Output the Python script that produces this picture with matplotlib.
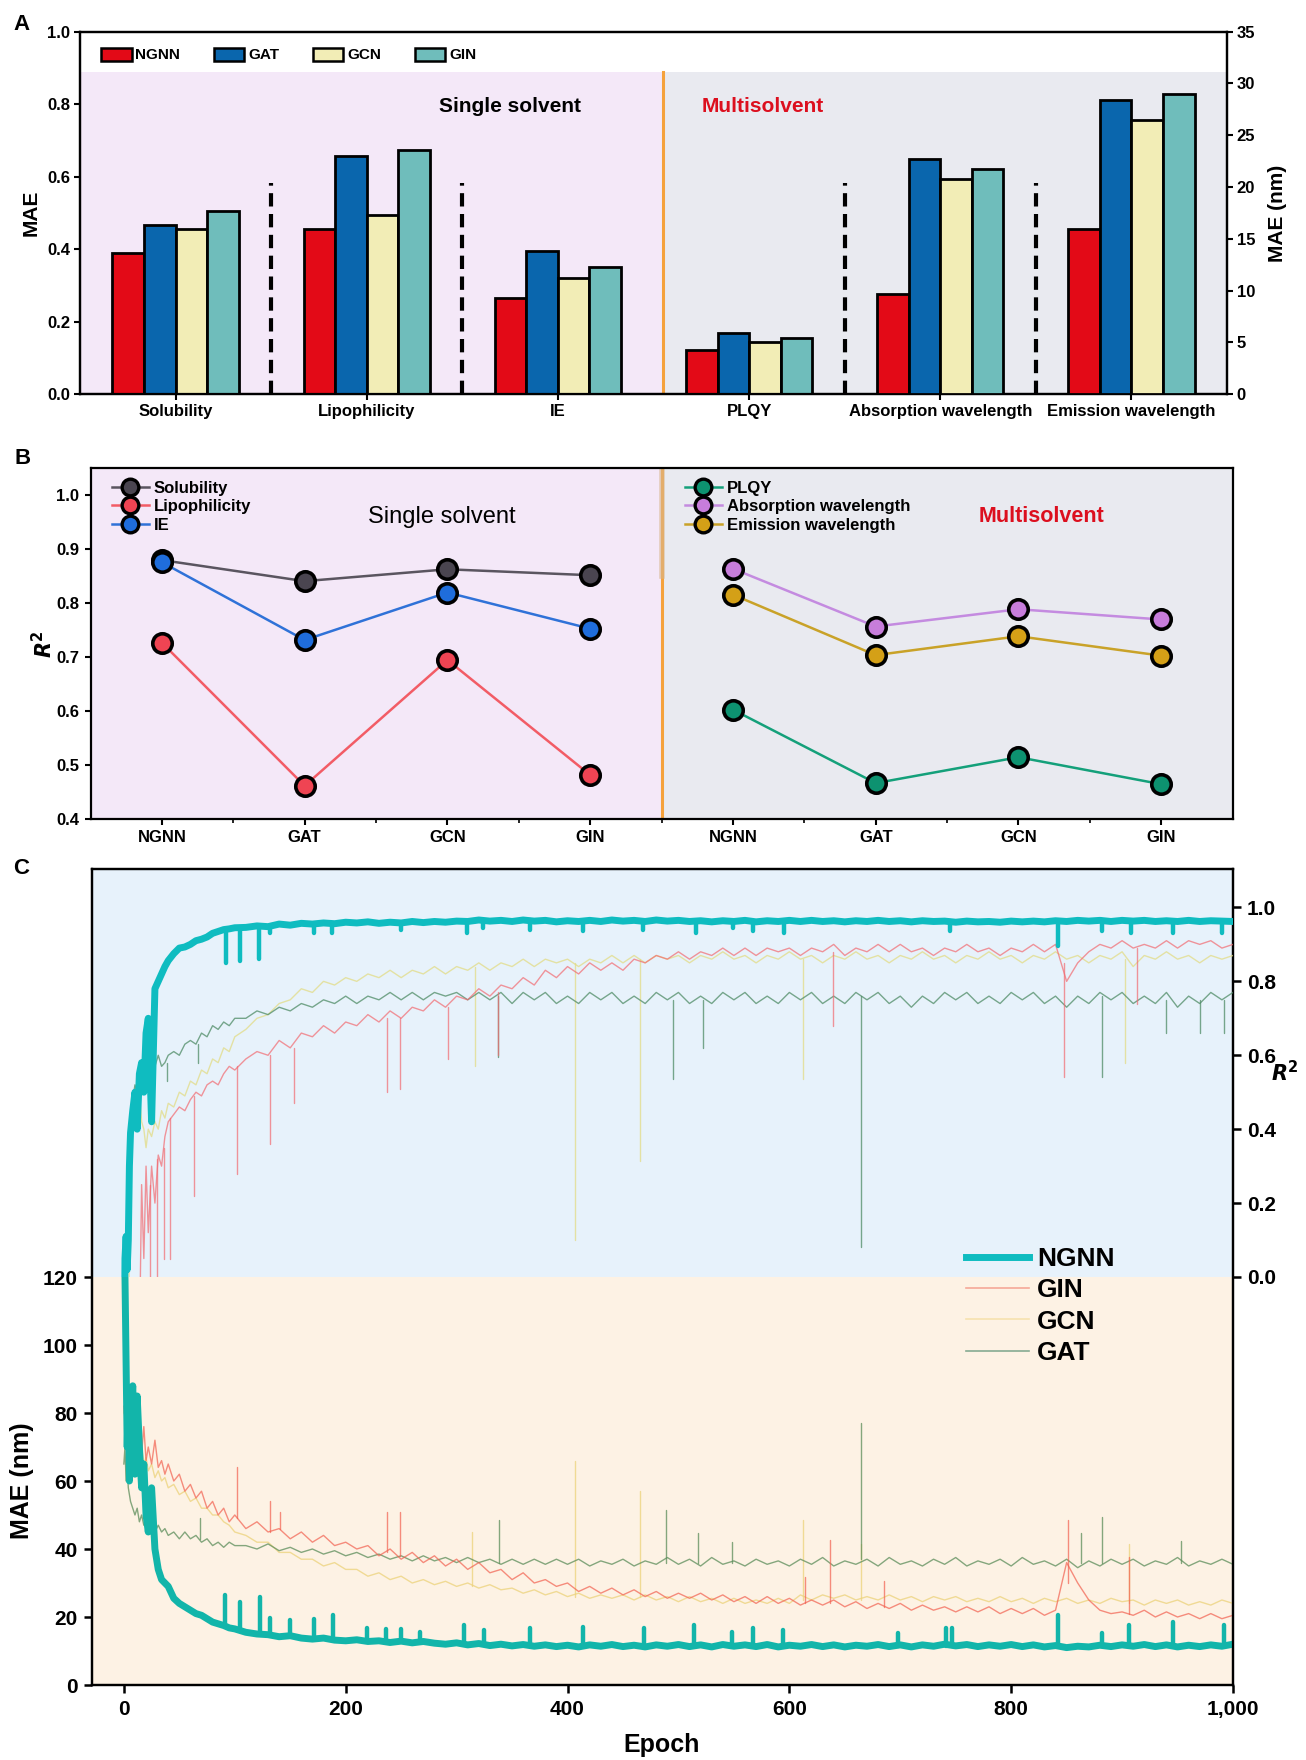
import matplotlib
matplotlib.use("Agg")
import matplotlib.pyplot as plt
from matplotlib.lines import Line2D
from matplotlib.patches import Patch, Rectangle
from matplotlib.ticker import FuncFormatter
import numpy as np

plt.rcParams["font.family"] = ["Liberation Sans", "DejaVu Sans"]
plt.rcParams["font.weight"] = "bold"
plt.rcParams["axes.linewidth"] = 1.6
plt.rcParams["xtick.major.width"] = 1.5
plt.rcParams["ytick.major.width"] = 1.5

# ---------------- panel A: MAE bars ----------------
TASKS_A = ["Solubility", "Lipophilicity", "IE", "PLQY",
           "Absorption wavelength", "Emission wavelength"]
MODELS = ["NGNN", "GAT", "GCN", "GIN"]
# left axis (MAE): Solubility, Lipophilicity, IE, PLQY
MAE_NGNN = [0.390, 0.455, 0.265, 0.122]
MAE_GAT = [0.466, 0.657, 0.396, 0.170]
MAE_GCN = [0.457, 0.495, 0.322, 0.143]
MAE_GIN = [0.506, 0.674, 0.352, 0.156]
# right axis (MAE, nm): Absorption / Emission wavelength
NM_NGNN = [9.7, 16.0]
NM_GAT = [22.7, 28.4]
NM_GCN = [20.8, 26.5]
NM_GIN = [21.7, 29.0]

# ---------------- panel B: R2 per model ----------------
R2_SOLUBILITY = [0.880, 0.841, 0.863, 0.852]
R2_LIPOPHILICITY = [0.727, 0.462, 0.695, 0.482]
R2_IE = [0.876, 0.732, 0.820, 0.753]
R2_PLQY = [0.603, 0.467, 0.515, 0.465]
R2_ABSORPTION = [0.864, 0.757, 0.789, 0.770]
R2_EMISSION = [0.816, 0.704, 0.739, 0.703]

# ---------------- panel C: training curves ----------------
EPOCHS = [0, 1, 2, 3, 4, 5, 6, 8, 10, 12, 14, 16, 18, 20, 22, 25, 28, 31, 34, 37,
          40, 45, 50, 55, 60, 65, 70, 75, 80, 85, 90, 95, 100] + list(range(110, 1001, 10))

NGNN_R2 = [-0.5, 0.05, 0.11, 0.02, 0.10, 0.30, 0.39, 0.45, 0.50, 0.40, 0.55, 0.58, 0.50, 0.66, 0.70, 0.42,
           0.78, 0.80, 0.82, 0.84, 0.856, 0.875, 0.89, 0.893, 0.90, 0.91, 0.914, 0.92, 0.93, 0.935, 0.94, 0.942, 0.945,
           0.946, 0.950, 0.948, 0.955, 0.952, 0.957, 0.955, 0.958, 0.956, 0.960,
           0.958, 0.961, 0.957, 0.960, 0.958, 0.962, 0.959, 0.962, 0.960, 0.963,
           0.962, 0.966, 0.963, 0.965, 0.962, 0.966, 0.963, 0.965, 0.961, 0.964,
           0.962, 0.965, 0.962, 0.966, 0.963, 0.965, 0.962, 0.966, 0.963, 0.965,
           0.962, 0.964, 0.961, 0.964, 0.962, 0.965, 0.961, 0.964, 0.962, 0.965,
           0.962, 0.965, 0.962, 0.964, 0.961, 0.964, 0.962, 0.965, 0.962, 0.964,
           0.961, 0.964, 0.962, 0.963, 0.960, 0.963, 0.961, 0.962, 0.960, 0.963,
           0.961, 0.963, 0.961, 0.964, 0.962, 0.965, 0.963, 0.965, 0.962, 0.965,
           0.963, 0.965, 0.962, 0.964, 0.962, 0.965, 0.962, 0.964, 0.963, 0.962]
GIN_R2 = [-0.4, -0.4, -0.4, -0.4, -0.4, -0.4, -0.4, -0.4, -0.4, -0.4, -0.2, 0.25, 0.05, 0.30, 0.12, 0.30,
          0.20, 0.33, 0.30, 0.38, 0.42, 0.44, 0.46, 0.45, 0.48, 0.50, 0.49, 0.52, 0.53, 0.52, 0.55, 0.57, 0.56,
          0.59, 0.61, 0.60, 0.64, 0.62, 0.66, 0.65, 0.68, 0.66, 0.69,
          0.68, 0.71, 0.69, 0.72, 0.70, 0.73, 0.72, 0.75, 0.73, 0.76,
          0.75, 0.78, 0.76, 0.79, 0.78, 0.81, 0.79, 0.83, 0.81, 0.84,
          0.82, 0.85, 0.83, 0.85, 0.83, 0.86, 0.85, 0.87, 0.86, 0.88,
          0.86, 0.88, 0.87, 0.89, 0.87, 0.89, 0.87, 0.89, 0.88, 0.89,
          0.87, 0.89, 0.88, 0.90, 0.87, 0.89, 0.88, 0.90, 0.88, 0.90,
          0.88, 0.89, 0.87, 0.89, 0.88, 0.90, 0.88, 0.89, 0.87, 0.89,
          0.88, 0.90, 0.88, 0.90, 0.80, 0.85, 0.88, 0.90, 0.89, 0.91,
          0.89, 0.90, 0.89, 0.91, 0.89, 0.91, 0.90, 0.91, 0.89, 0.90]
GCN_R2 = [-0.4, -0.4, -0.4, -0.4, -0.4, 0.20, 0.35, 0.42, 0.48, 0.45, 0.50, 0.42, 0.40, 0.35, 0.40, 0.38,
          0.42, 0.40, 0.45, 0.43, 0.47, 0.46, 0.50, 0.49, 0.53, 0.52, 0.56, 0.55, 0.59, 0.58, 0.62, 0.61, 0.65,
          0.67, 0.70, 0.71, 0.74, 0.75, 0.78, 0.77, 0.80, 0.79, 0.81,
          0.80, 0.82, 0.81, 0.83, 0.81, 0.83, 0.82, 0.84, 0.82, 0.84,
          0.83, 0.85, 0.83, 0.85, 0.84, 0.86, 0.84, 0.86, 0.85, 0.86,
          0.84, 0.86, 0.85, 0.87, 0.85, 0.87, 0.85, 0.87, 0.86, 0.87,
          0.85, 0.87, 0.86, 0.88, 0.86, 0.87, 0.85, 0.87, 0.86, 0.88,
          0.86, 0.87, 0.85, 0.87, 0.86, 0.88, 0.86, 0.87, 0.85, 0.87,
          0.86, 0.88, 0.86, 0.87, 0.85, 0.87, 0.86, 0.88, 0.86, 0.87,
          0.85, 0.87, 0.86, 0.88, 0.86, 0.87, 0.85, 0.87, 0.86, 0.88,
          0.84, 0.87, 0.86, 0.88, 0.86, 0.87, 0.85, 0.87, 0.86, 0.87]
GAT_R2 = [-0.4, -0.2, 0.10, 0.20, 0.30, 0.38, 0.42, 0.48, 0.52, 0.50, 0.55, 0.57, 0.55, 0.58, 0.56, 0.59,
          0.57, 0.60, 0.57, 0.58, 0.60, 0.61, 0.60, 0.63, 0.64, 0.63, 0.66, 0.65, 0.68, 0.67, 0.69, 0.68, 0.70,
          0.70, 0.72, 0.71, 0.73, 0.72, 0.74, 0.73, 0.75, 0.74, 0.76,
          0.74, 0.76, 0.75, 0.77, 0.75, 0.77, 0.75, 0.77, 0.76, 0.77,
          0.75, 0.77, 0.75, 0.77, 0.74, 0.77, 0.75, 0.77, 0.74, 0.76,
          0.74, 0.77, 0.75, 0.77, 0.74, 0.76, 0.74, 0.77, 0.75, 0.77,
          0.74, 0.76, 0.74, 0.77, 0.75, 0.77, 0.74, 0.76, 0.74, 0.77,
          0.75, 0.77, 0.74, 0.76, 0.74, 0.77, 0.75, 0.77, 0.74, 0.76,
          0.73, 0.76, 0.74, 0.77, 0.75, 0.77, 0.74, 0.76, 0.74, 0.77,
          0.75, 0.77, 0.74, 0.76, 0.73, 0.76, 0.74, 0.77, 0.75, 0.77,
          0.74, 0.76, 0.74, 0.77, 0.73, 0.76, 0.74, 0.77, 0.75, 0.77]

NGNN_MAE = [135, 120, 95, 70, 85, 60, 75, 88, 62, 85, 70, 58, 65, 50, 45, 58,
            40, 34, 31, 30, 29, 25.5, 24, 23, 22, 21, 20.5, 19.5, 18.5, 18, 17.5, 16.8, 16.5,
            15.5, 15.0, 14.8, 14.2, 14.5, 13.8, 13.5, 13.8, 13.2, 13.0,
            13.3, 12.8, 13.0, 12.5, 12.9, 12.4, 12.8, 12.3, 12.0, 12.4,
            11.8, 12.2, 11.6, 12.0, 11.5, 11.9, 11.4, 11.8, 11.3, 11.7,
            11.2, 11.8, 11.4, 11.9, 11.3, 11.7, 11.2, 11.8, 11.4, 11.9,
            11.3, 11.8, 11.2, 11.9, 11.4, 11.8, 11.3, 11.9, 11.2, 11.7,
            11.4, 11.9, 11.3, 11.8, 11.2, 11.7, 11.4, 11.9, 11.3, 11.8,
            11.2, 11.8, 11.4, 12.0, 11.5, 11.9, 11.3, 11.8, 11.4, 11.9,
            11.3, 11.8, 11.2, 11.6, 11.0, 11.4, 11.2, 11.7, 11.3, 11.8,
            11.4, 11.9, 11.3, 11.8, 11.2, 11.7, 11.3, 11.8, 11.4, 12.0]
GIN_MAE = [82, 78, 83, 76, 80, 74, 78, 72, 77, 70, 74, 68, 76, 66, 70, 65,
           72, 64, 66, 62, 65, 60, 62, 57, 59, 55, 57, 52, 54, 50, 52, 48, 50,
           46, 48, 45, 46, 43, 45, 42, 44, 41, 42,
           40, 41, 38, 40, 37, 39, 36, 38, 35, 37,
           34, 36, 33, 34, 31, 33, 30, 31, 29, 30,
           27.5, 29, 27, 28.5, 26.5, 28, 26, 27.5, 25.5, 27,
           25.5, 27, 25, 26.5, 24.5, 26, 24, 26, 24, 25.5,
           23.5, 25, 23.5, 25, 23, 24.5, 22.5, 24, 22.5, 24,
           22, 23.5, 22, 23, 21.5, 23, 21.5, 23, 21, 22.5,
           21, 22.5, 20.5, 22, 36, 30, 25, 22, 21, 21.5,
           20.5, 22, 20, 21.5, 20, 21, 19.5, 21, 19.5, 20.5]
GCN_MAE = [80, 82, 76, 79, 74, 77, 72, 75, 70, 72, 67, 70, 65, 67, 63, 65,
           61, 63, 60, 61, 58, 59, 56, 57, 54, 55, 52, 52, 50, 50, 48, 47, 45,
           44, 42, 42, 39, 39, 37, 37, 35, 36, 34,
           34, 32, 33, 31, 32, 30, 31, 29.5, 30.5, 29,
           30, 28.5, 29.5, 28, 28.5, 27, 28, 26.5, 27.5, 26,
           27, 25.5, 26.5, 25.5, 26.5, 25, 26.5, 25, 26, 24.5,
           26, 24.5, 25.5, 24, 25.5, 24, 25, 24, 25.5, 24,
           26.5, 25, 26.5, 25.5, 26.5, 25, 26, 25, 26.5, 25,
           26, 24.5, 26, 25, 26, 24.5, 25.5, 24.5, 26, 24.5,
           25.5, 24, 25.5, 24.5, 25.5, 24, 25, 24, 25.5, 24.5,
           25, 23.5, 25, 24, 25, 23.5, 24.5, 23.5, 25, 24]
GAT_MAE = [65, 70, 60, 64, 58, 56, 54, 52, 50, 52, 48, 50, 47, 49, 46, 48,
           45, 47, 45, 46, 44, 45, 43, 45, 43, 44, 42, 43, 41, 42, 40.5, 42, 41,
           41, 40, 41.5, 39.5, 40.5, 39, 40, 38.5, 39.5, 38,
           39, 37.5, 38.5, 37, 38, 36.5, 38, 36.5, 37.5, 36,
           37.5, 36, 37, 35.5, 37, 35.5, 37, 35.5, 37, 35.5,
           37, 35, 36.5, 35.5, 37, 35, 36.5, 35.5, 37.5, 35.5,
           37, 35, 37.5, 35.5, 36.5, 35, 37, 35.5, 36.5, 35,
           37, 35.5, 37.5, 35, 36.5, 35.5, 37, 35, 37.5, 35.5,
           36.5, 35, 37, 35.5, 37.5, 35, 36.5, 35.5, 37, 35,
           37.5, 35.5, 36.5, 35, 37, 34.5, 36.5, 35, 37, 35.5,
           37, 35, 36.5, 35.5, 37.5, 35, 36.5, 35.5, 37, 35.5]

# single-epoch spikes: (epoch, level around it, tip)
NGNN_R2_DIPS = [(92, 0.94, 0.85), (105, 0.945, 0.856), (122, 0.95, 0.86), (132, 0.948, 0.93),
                (171, 0.955, 0.93), (188, 0.956, 0.93), (250, 0.958, 0.94), (309, 0.962, 0.93),
                (324, 0.965, 0.945), (366, 0.965, 0.94), (414, 0.964, 0.935), (468, 0.963, 0.94),
                (516, 0.963, 0.93), (549, 0.963, 0.945), (567, 0.963, 0.935), (595, 0.963, 0.93),
                (745, 0.962, 0.935), (842, 0.963, 0.895), (882, 0.965, 0.935), (908, 0.964, 0.93),
                (946, 0.963, 0.93), (990, 0.963, 0.93)]
GIN_R2_DIPS = [(24, 0.25, -0.1), (30, 0.32, 0.0), (36, 0.35, 0.05), (42, 0.43, 0.05), (63, 0.49, 0.22),
               (102, 0.57, 0.28), (132, 0.60, 0.36), (153, 0.62, 0.47), (237, 0.70, 0.50),
               (249, 0.70, 0.51), (292, 0.73, 0.59), (337, 0.77, 0.60), (639, 0.88, 0.68),
               (848, 0.85, 0.54), (913, 0.89, 0.74)]
GCN_R2_DIPS = [(317, 0.84, 0.57), (407, 0.85, 0.10), (465, 0.86, 0.315), (612, 0.86, 0.535),
               (903, 0.86, 0.58)]
GAT_R2_DIPS = [(39, 0.58, 0.53), (67, 0.63, 0.58), (337, 0.76, 0.595), (495, 0.75, 0.536),
               (522, 0.75, 0.62), (665, 0.76, 0.08), (882, 0.76, 0.54), (940, 0.75, 0.66),
               (970, 0.75, 0.66), (992, 0.75, 0.66)]
NGNN_MAE_PEAKS = [(91, 17.5, 26.5), (105, 16, 24.5), (123, 15, 26), (132, 14.8, 19.6), (150, 14.3, 19),
                  (171, 13.5, 19.5), (189, 13.2, 20.6), (219, 12.8, 16.7), (236, 12.8, 16.5),
                  (250, 12.8, 16.5), (267, 12.6, 15.5), (307, 12, 17.6), (325, 12, 16.2),
                  (366, 11.8, 16.7), (414, 11.7, 17), (469, 11.6, 16.7), (514, 11.6, 17.6),
                  (548, 11.6, 15.6), (567, 11.6, 16.7), (594, 11.6, 16.2), (698, 11.5, 15.2),
                  (741, 11.5, 16.7), (747, 11.5, 16.7), (842, 11.5, 20.6), (882, 11.5, 15.2),
                  (906, 11.5, 17.6), (946, 11.5, 18.6), (992, 11.5, 17.6)]
GIN_MAE_PEAKS = [(102, 49, 64), (132, 45, 54), (141, 46, 51), (237, 39, 51), (249, 38, 51),
                 (614, 24, 31.8), (637, 24, 42.6), (685, 23, 30.5), (851, 30, 48.5), (906, 21, 37.7)]
GCN_MAE_PEAKS = [(314, 29, 45), (407, 26, 66), (465, 26, 57), (612, 25, 48.5), (665, 25, 41.6),
                 (906, 24, 41.6)]
GAT_MAE_PEAKS = [(69, 43, 49), (338, 36, 48.5), (489, 36, 51.4), (518, 36, 44.6), (548, 36, 42),
                 (665, 37, 77), (863, 36, 44.6), (882, 36, 49.5), (953, 36, 42.5)]

BAR_COLORS = ["#e30a17", "#0a66ad", "#f2edb6", "#6fbdbb"]
PURPLE_BG = "#f4e8f8"
GRAY_BG = "#e9eaf0"
ORANGE = "#f5a23c"
RED_TXT = "#dc0f1e"

W, H = 1306, 1760


def box(left, top, right, bottom):
    return [left / W, 1 - bottom / H, (right - left) / W, (bottom - top) / H]


fig = plt.figure(figsize=(W / 100, H / 100), dpi=100)
fig.patch.set_facecolor("white")

# =============== A ===============
axA = fig.add_axes(box(80, 31.7, 1227, 394.3))
axA.set_xlim(-0.5, 5.5)
axA.set_ylim(0, 1.0)
axAr = axA.twinx()
axAr.set_ylim(0, 35)

axA.axvspan(-0.5, 2.55, ymax=0.89, color=PURPLE_BG, lw=0, zorder=0)
axA.axvspan(2.55, 5.5, ymax=0.89, color=GRAY_BG, lw=0, zorder=0)
axA.plot([2.55, 2.55], [0, 0.89], color=ORANGE, lw=2.2, zorder=1)
for xs in [0.5, 1.5, 3.5, 4.5]:
    axA.plot([xs, xs], [0, 0.583], color="black", lw=3, ls=(0, (3.2, 1.8)), zorder=2)

bw = 0.165
left_vals = [MAE_NGNN, MAE_GAT, MAE_GCN, MAE_GIN]
right_vals = [NM_NGNN, NM_GAT, NM_GCN, NM_GIN]
for i in range(4):
    off = (i - 1.5) * bw
    axA.bar(np.arange(4) + off, left_vals[i], width=bw, color=BAR_COLORS[i],
            edgecolor="black", linewidth=2, zorder=3)
    axAr.bar(np.arange(4, 6) + off, right_vals[i], width=bw, color=BAR_COLORS[i],
             edgecolor="black", linewidth=2, zorder=3)

axA.set_xticks(range(6))
axA.set_xticklabels(TASKS_A, fontsize=12, fontweight="bold")
axA.set_yticks(np.arange(0, 1.01, 0.2))
axA.set_yticklabels([f"{v:.1f}" for v in np.arange(0, 1.01, 0.2)], fontsize=12)
axAr.set_yticks(range(0, 36, 5))
axAr.set_yticklabels([str(v) for v in range(0, 36, 5)], fontsize=12)
axA.tick_params(axis="both", length=4, pad=3)
axAr.tick_params(axis="y", length=4, pad=3)

axA.text(1.75, 0.795, "Single solvent", fontsize=15, fontweight="bold", ha="center", va="center")
axA.text(3.07, 0.795, "Multisolvent", fontsize=15, fontweight="bold", color=RED_TXT,
         ha="center", va="center")

hA = [Patch(facecolor=c, edgecolor="black", linewidth=1.8) for c in BAR_COLORS]
axAr.legend(hA, MODELS, loc="center left", bbox_to_anchor=(101 / W, 1 - 55 / H),
            bbox_transform=fig.transFigure, ncol=4, frameon=False, fontsize=11,
            handlelength=2.0, handleheight=0.95, handletextpad=0.25, columnspacing=2.2,
            borderpad=0, borderaxespad=0)

fig.text(31.6 / W, 1 - 212.5 / H, "MAE", rotation=90, fontsize=15, fontweight="bold",
         ha="center", va="center")
fig.text(1277.6 / W, 1 - 213 / H, "MAE (nm)", rotation=90, fontsize=15, fontweight="bold",
         ha="center", va="center")

# =============== B ===============
axB = fig.add_axes(box(90.5, 468.3, 1232.6, 819.3))
axB.set_xlim(-0.5, 7.5)
axB.set_ylim(0.4, 1.05)
axB.axvspan(-0.5, 3.5, color=PURPLE_BG, lw=0, zorder=0)
axB.axvspan(3.5, 7.5, color=GRAY_BG, lw=0, zorder=0)
axB.plot([3.5, 3.5], [0.4, 1.05], color=ORANGE, lw=2.2, zorder=1)
axB.plot([3.5, 3.5], [0.85, 1.05], color="#d8b68c", lw=4, alpha=0.6, zorder=1)

xl = np.arange(4)
xr = np.arange(4, 8)
series_b = [
    (xl, R2_SOLUBILITY, "#5a5560", "#4a4550", "Solubility"),
    (xl, R2_LIPOPHILICITY, "#f25c66", "#ef4453", "Lipophilicity"),
    (xl, R2_IE, "#2f72d8", "#1f6ddc", "IE"),
    (xr, R2_PLQY, "#14a07a", "#0d9270", "PLQY"),
    (xr, R2_ABSORPTION, "#c48be0", "#c77ddb", "Absorption wavelength"),
    (xr, R2_EMISSION, "#c9a228", "#d4a017", "Emission wavelength"),
]
handles_b = []
for xs, ys, lc, fc, name in series_b:
    axB.plot(xs, ys, color=lc, lw=1.8, zorder=3)
    axB.plot(xs, ys, ls="none", marker="o", ms=14, mfc=fc, mec="black", mew=2.6, zorder=4)
    handles_b.append(Line2D([], [], color=lc, lw=1.8, marker="o", ms=12, mfc=fc,
                            mec="black", mew=2.4, label=name))

legB_kw = dict(frameon=False, fontsize=12, handlelength=2.2, handletextpad=0.3,
               labelspacing=0.2, borderpad=0, borderaxespad=0,
               bbox_transform=fig.transFigure, loc="upper left")
legB1 = axB.legend(handles=handles_b[:3], bbox_to_anchor=(112 / W, 1 - 481 / H), **legB_kw)
axB.add_artist(legB1)
axB.legend(handles=handles_b[3:], bbox_to_anchor=(685 / W, 1 - 481 / H), **legB_kw)

axB.text(1.96, 0.96, "Single solvent", fontsize=17, fontweight="normal", ha="center", va="center")
axB.text(6.16, 0.96, "Multisolvent", fontsize=15.5, fontweight="bold", color=RED_TXT,
         ha="center", va="center")

axB.set_xticks(range(8))
axB.set_xticklabels(MODELS + MODELS, fontsize=12)
axB.set_xticks(np.arange(0.5, 7.5, 1), minor=True)
axB.set_yticks(np.arange(0.4, 1.01, 0.1))
axB.set_yticklabels([f"{v:.1f}" for v in np.arange(0.4, 1.01, 0.1)], fontsize=12)
axB.tick_params(axis="both", which="major", length=4, pad=4)
axB.tick_params(axis="x", which="minor", length=3, width=1.2)
fig.text(44 / W, 1 - 644 / H, "$\\mathbfit{R}^{\\mathbf{2}}$", rotation=90, fontsize=15,
         ha="center", va="center")

# =============== C ===============
axC = fig.add_axes(box(91.7, 869, 1233, 1685))
axC.set_xlim(-29, 1000)
axC.set_ylim(0, 240)
axC2 = axC.twinx()
axC2.set_ylim(-1.104, 1.104)
axC.axhspan(0, 120, color="#fdf2e4", lw=0, zorder=0)
axC.axhspan(120, 240, color="#e7f2fb", lw=0, zorder=0)

clip_mae = Rectangle((-29, 0), 1029, 120, transform=axC.transData)
clip_r2 = Rectangle((-29, 0), 1029, 1.2, transform=axC2.transData)

C_TEAL = "#0fbcc0"
C_TEAL_LOW = "#12b5aa"
c_styles = [
    ("GCN", GCN_R2, GCN_MAE, GCN_R2_DIPS, GCN_MAE_PEAKS, "#e2dc86", "#ecd27a", 1.0, 0.75),
    ("GAT", GAT_R2, GAT_MAE, GAT_R2_DIPS, GAT_MAE_PEAKS, "#4f8c66", "#5c8d5a", 1.0, 0.75),
    ("GIN", GIN_R2, GIN_MAE, GIN_R2_DIPS, GIN_MAE_PEAKS, "#f26a70", "#f2604f", 1.0, 0.7),
    ("NGNN", NGNN_R2, NGNN_MAE, NGNN_R2_DIPS, NGNN_MAE_PEAKS, C_TEAL, C_TEAL_LOW, 5.0, 1.0),
]
for name, r2, mae, dips, peaks, c_hi, c_lo, lw, alpha in c_styles:
    z = 5 if name == "NGNN" else 3
    spike_lw = 3.2 if name == "NGNN" else lw
    (l1,) = axC2.plot(EPOCHS, r2, color=c_hi, lw=lw, alpha=alpha, zorder=z)
    l1.set_clip_path(clip_r2)
    v1 = axC2.vlines([d[0] for d in dips], [d[1] for d in dips], [d[2] for d in dips],
                     colors=c_hi, lw=spike_lw, alpha=alpha, zorder=z)
    v1.set_capstyle("round")
    v1.set_clip_path(clip_r2)
    (l2,) = axC.plot(EPOCHS, mae, color=c_lo, lw=lw, alpha=alpha, zorder=z)
    l2.set_clip_path(clip_mae)
    v2 = axC.vlines([p[0] for p in peaks], [p[1] for p in peaks], [p[2] for p in peaks],
                    colors=c_lo, lw=spike_lw, alpha=alpha, zorder=z)
    v2.set_capstyle("round")
    v2.set_clip_path(clip_mae)

axC.set_yticks(range(0, 121, 20))
axC.set_yticklabels([str(v) for v in range(0, 121, 20)], fontsize=15)
axC.set_xticks(range(0, 1001, 200))
axC.xaxis.set_major_formatter(FuncFormatter(lambda v, p: f"{int(v):,}"))
axC.tick_params(axis="x", labelsize=15, length=6, width=1.8, pad=5)
axC.tick_params(axis="y", length=6, width=1.8, pad=4)
axC2.set_yticks([0, 0.2, 0.4, 0.6, 0.8, 1.0])
axC2.set_yticklabels(["0.0", "0.2", "0.4", "0.6", "0.8", "1.0"], fontsize=15)
axC2.tick_params(axis="y", length=6, width=1.8, pad=4)

hC = [Line2D([], [], color=C_TEAL, lw=5),
      Line2D([], [], color="#f5a898", lw=1.2),
      Line2D([], [], color="#f6e2ae", lw=1.2),
      Line2D([], [], color="#86aa92", lw=1.2)]
axC2.legend(hC, ["NGNN", "GIN", "GCN", "GAT"], loc="center left",
            bbox_to_anchor=(966 / W, 1 - 1306 / H), bbox_transform=fig.transFigure,
            frameon=False, handlelength=2.4, handletextpad=0.3,
            labelspacing=0.28, borderpad=0, borderaxespad=0,
            prop={"size": 19, "weight": "bold"})

fig.text(22 / W, 1 - 1481 / H, "MAE (nm)", rotation=90, fontsize=18, fontweight="bold",
         ha="center", va="center")
fig.text(662 / W, 1 - 1745 / H, "Epoch", fontsize=18, fontweight="bold", ha="center", va="center")
fig.text(1285 / W, 1 - 1073 / H, "$\\mathbfit{R}^{\\mathbf{2}}$", fontsize=15,
         ha="center", va="center")

# panel letters
for lab, (px, py) in {"A": (21, 24), "B": (23, 458), "C": (21, 868)}.items():
    fig.text(px / W, 1 - py / H, lab, fontsize=16, fontweight="bold", ha="center", va="center")

fig.savefig("out.png", dpi=100, facecolor="white")
